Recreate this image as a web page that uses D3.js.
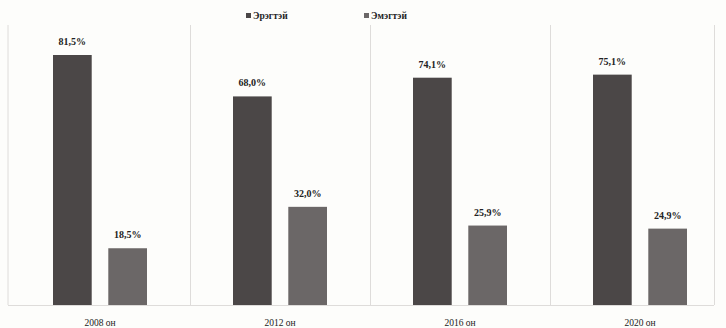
<!DOCTYPE html>
<html>
<head>
<meta charset="utf-8">
<script src="https://cdn.jsdelivr.net/npm/d3@7"></script>
<style>
  body { margin: 0; background: #fdfdfb; }
  text { font-family: "Liberation Serif", "DejaVu Serif", serif; fill: #222; }
</style>
</head>
<body>
<script>
const years = ["2008 он", "2012 он", "2016 он", "2020 он"];
const seriesNames = ["Эрэгтэй", "Эмэгтэй"];
const male = [81.5, 68.0, 74.1, 75.1];
const female = [18.5, 32.0, 25.9, 24.9];
const colors = ["#4b4747", "#6b6767"];

const width = 726, height = 328;
const svg = d3.select("body").append("svg")
    .attr("width", width)
    .attr("height", height);

const plotLeft = 8, plotRight = 714, plotTop = 25, baseline = 305;

let x0 = d3.scaleBand()
    .domain(years)
    .range([10, 730])
    .paddingInner(0)
    .paddingOuter(0);
let x1 = d3.scaleBand()
    .domain(seriesNames)
    .range([43, 137])
    .paddingInner(0.3);
let y = d3.scaleLinear()
    .domain([0, 81.5])
    .range([baseline, 55]);

const fmt = v => v.toFixed(1).replace(".", ",") + "%";

// gridlines between categories
let grid = svg.append("g").attr("stroke", "#dedcda").attr("stroke-width", 1);
years.forEach((yr, i) => {
    let gx = i === 0 ? plotLeft : Math.round(x0(yr)) + 0.5;
    grid.append("line")
        .attr("x1", gx).attr("x2", gx)
        .attr("y1", plotTop).attr("y2", baseline);
});
grid.append("line")
    .attr("x1", plotRight + 0.5).attr("x2", plotRight + 0.5)
    .attr("y1", plotTop).attr("y2", baseline);
grid.append("line")
    .attr("x1", plotLeft).attr("x2", plotRight)
    .attr("y1", baseline + 0.5).attr("y2", baseline + 0.5);

let rows = years.map((yr, i) => ({
    year: yr,
    vals: [male[i], female[i]]
}));

let groups = svg.append("g")
    .selectAll("g")
    .data(rows)
    .enter()
    .append("g")
    .attr("transform", d => `translate(${x0(d.year)},0)`);

let cells = groups.selectAll("g")
    .data(d => d.vals.map((v, j) => ({ v: v, name: seriesNames[j], j: j })))
    .enter();

cells.append("rect")
    .attr("x", d => x1(d.name))
    .attr("y", d => y(d.v))
    .attr("width", x1.bandwidth())
    .attr("height", d => baseline - y(d.v))
    .attr("fill", d => colors[d.j]);

cells.append("text")
    .attr("x", d => x1(d.name) + x1.bandwidth() / 2)
    .attr("y", d => y(d.v) - 10)
    .attr("text-anchor", "middle")
    .attr("font-size", 10)
    .attr("font-weight", "bold")
    .text(d => fmt(d.v));

// category labels
svg.append("g")
    .selectAll("text")
    .data(years)
    .enter()
    .append("text")
    .attr("x", d => x0(d) + x0.bandwidth() / 2)
    .attr("y", 326)
    .attr("text-anchor", "middle")
    .attr("font-size", 9.5)
    .text(d => d);

// legend
let legendX = [246, 364];
let legend = svg.append("g")
    .selectAll("g")
    .data(seriesNames)
    .enter()
    .append("g")
    .attr("transform", (d, i) => `translate(${legendX[i]},19)`);
legend.append("rect")
    .attr("x", 0).attr("y", -6)
    .attr("width", 5).attr("height", 5)
    .attr("fill", (d, i) => colors[i]);
legend.append("text")
    .attr("x", 7).attr("y", 0)
    .attr("font-size", 9.5)
    .attr("font-weight", "bold")
    .text(d => d);
</script>
</body>
</html>
